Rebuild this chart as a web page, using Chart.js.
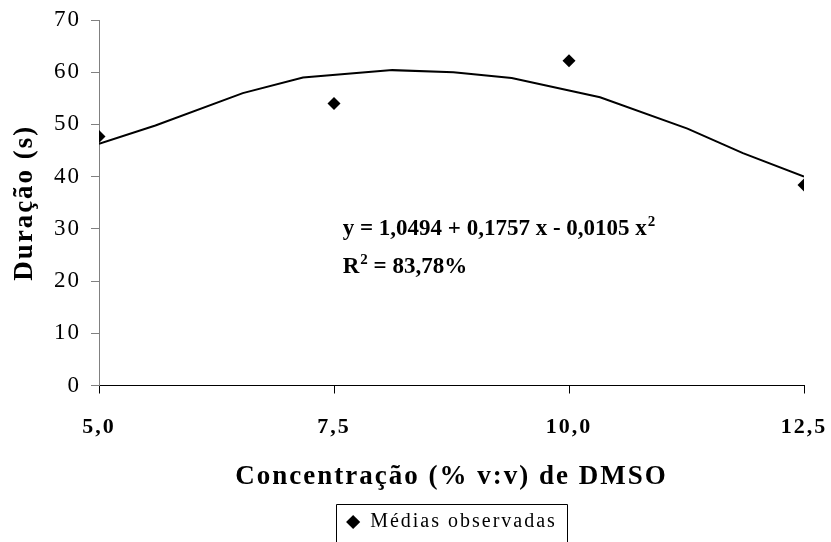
<!DOCTYPE html>
<html>
<head>
<meta charset="utf-8">
<script src="https://cdn.jsdelivr.net/npm/chart.js@4"></script>
<style>
  html, body { margin: 0; padding: 0; background: #ffffff; }
  #wrap { width: 831px; height: 542px; }
</style>
</head>
<body>
<div id="wrap"><canvas id="c" width="831" height="542"></canvas></div>
<script>
// DMSO concentration (% v:v) and observed mean durations (s)
const concentrations = [5.0, 7.5, 10.0, 12.5];
const observedMeans = [47.7, 54.0, 62.2, 38.4];

// Fitted quadratic trend, sampled along the concentration range
const trendX = [5.0, 5.6, 6.53, 7.17, 8.12, 8.77, 9.39, 10.33, 11.26, 11.85, 12.5];
const trendY = [46.3, 49.8, 56.0, 59.0, 60.4, 60.0, 58.9, 55.2, 49.2, 44.5, 40.0];

const xTicks = [5.0, 7.5, 10.0, 12.5];
const yTicks = [0, 10, 20, 30, 40, 50, 60, 70];

const equationText = 'y = 1,0494 + 0,1757 x - 0,0105 x';
const r2Label = 'R';
const r2Value = ' = 83,78%';

const SERIF = '"Liberation Serif", "Times New Roman", serif';
const SPACING = '2px';

const fmtComma = v => v.toFixed(1).replace('.', ',');

// Slightly spaced lettering for axis and legend text
const spacingPlugin = {
  id: 'spacing',
  beforeUpdate(chart) { chart.ctx.letterSpacing = SPACING; },
  beforeLayout(chart) { chart.ctx.letterSpacing = SPACING; },
  beforeDraw(chart) { chart.ctx.letterSpacing = SPACING; }
};

// Regression equation block drawn inside the plot
const equationPlugin = {
  id: 'equation',
  afterDatasetsDraw(chart) {
    const ctx = chart.ctx;
    const x = chart.scales.x.getPixelForValue(7.593);
    const y1 = chart.scales.y.getPixelForValue(28.8);
    const y2 = chart.scales.y.getPixelForValue(21.55);
    ctx.save();
    ctx.letterSpacing = '0px';
    ctx.fillStyle = '#000';
    ctx.textAlign = 'left';
    ctx.textBaseline = 'alphabetic';
    ctx.font = 'bold 23px ' + SERIF;
    ctx.fillText(equationText, x, y1);
    let w = ctx.measureText(equationText).width;
    ctx.font = 'bold 15px ' + SERIF;
    ctx.fillText('2', x + w + 1, y1 - 9);
    ctx.font = 'bold 23px ' + SERIF;
    ctx.fillText(r2Label, x, y2);
    w = ctx.measureText(r2Label).width;
    ctx.font = 'bold 15px ' + SERIF;
    ctx.fillText('2', x + w + 1, y2 - 9);
    const w2 = ctx.measureText('2').width;
    ctx.font = 'bold 23px ' + SERIF;
    ctx.fillText(r2Value, x + w + w2 + 1, y2);
    ctx.restore();
  }
};

// Thin frame around the legend item
const legendFramePlugin = {
  id: 'legendFrame',
  afterDraw(chart) {
    const lg = chart.legend;
    if (!lg || !lg.legendHitBoxes || !lg.legendHitBoxes.length) return;
    const hb = lg.legendHitBoxes[0];
    const ctx = chart.ctx;
    ctx.save();
    ctx.strokeStyle = '#000';
    ctx.lineWidth = 1;
    const left = Math.round(hb.left - 10) + 0.5;
    const right = Math.round(hb.left + hb.width + 10) + 0.5;
    const top = Math.round(hb.top - 8) + 0.5;
    ctx.beginPath();
    ctx.moveTo(left, chart.height + 2);
    ctx.lineTo(left, top);
    ctx.lineTo(right, top);
    ctx.lineTo(right, chart.height + 2);
    ctx.stroke();
    ctx.restore();
  }
};

new Chart(document.getElementById('c'), {
  type: 'scatter',
  data: {
    datasets: [
      {
        label: 'Médias observadas',
        data: concentrations.map((c, i) => ({ x: c, y: observedMeans[i] })),
        pointStyle: 'rectRot',
        pointRadius: 6.5,
        pointBackgroundColor: '#000',
        pointBorderColor: '#000',
        pointBorderWidth: 0,
        order: 0
      },
      {
        type: 'line',
        label: 'Tendência',
        data: trendX.map((c, i) => ({ x: c, y: trendY[i] })),
        borderColor: '#000',
        borderWidth: 2,
        pointRadius: 0,
        tension: 0,
        fill: false,
        order: 1
      }
    ]
  },
  options: {
    responsive: false,
    animation: false,
    layout: { padding: { top: 20, right: 27, left: 0, bottom: 0 } },
    plugins: {
      tooltip: { enabled: false },
      legend: {
        position: 'bottom',
        fullSize: false,
        labels: {
          filter: item => item.datasetIndex === 0,
          usePointStyle: true,
          pointStyle: 'rectRot',
          boxWidth: 14,
          boxHeight: 10,
          padding: 0,
          color: '#000',
          font: { family: SERIF, size: 20 }
        }
      }
    },
    scales: {
      x: {
        type: 'linear',
        min: 5,
        max: 12.5,
        afterBuildTicks: s => { s.ticks = xTicks.map(v => ({ value: v })); },
        afterFit: s => { s.height = 126.5; s.paddingLeft = 0; s.paddingRight = 0; },
        border: { display: true, color: '#000', width: 1 },
        grid: { display: true, drawOnChartArea: false, tickLength: 8, color: '#000' },
        ticks: {
          callback: v => fmtComma(v),
          color: '#000',
          padding: 21,
          maxRotation: 0,
          font: { family: SERIF, size: 22, weight: 'bold' }
        },
        title: {
          display: true,
          text: 'Concentração (% v:v) de DMSO',
          color: '#000',
          font: { family: SERIF, size: 27, weight: 'bold' },
          padding: { top: 0, bottom: 19 }
        }
      },
      y: {
        type: 'linear',
        min: 0,
        max: 70,
        afterBuildTicks: s => { s.ticks = yTicks.map(v => ({ value: v })); },
        afterFit: s => { s.width = 99; s.paddingTop = 0; s.paddingBottom = 0; },
        border: { display: true, color: '#808080', width: 1 },
        grid: { display: true, drawOnChartArea: false, tickLength: 8, color: '#808080' },
        ticks: {
          color: '#000',
          padding: 10,
          font: { family: SERIF, size: 23 }
        },
        title: {
          display: true,
          text: 'Duração (s)',
          color: '#000',
          font: { family: SERIF, size: 27, weight: 'bold' },
          padding: { top: 9, bottom: 0 }
        }
      }
    }
  },
  plugins: [spacingPlugin, equationPlugin, legendFramePlugin]
});
</script>
</body>
</html>
